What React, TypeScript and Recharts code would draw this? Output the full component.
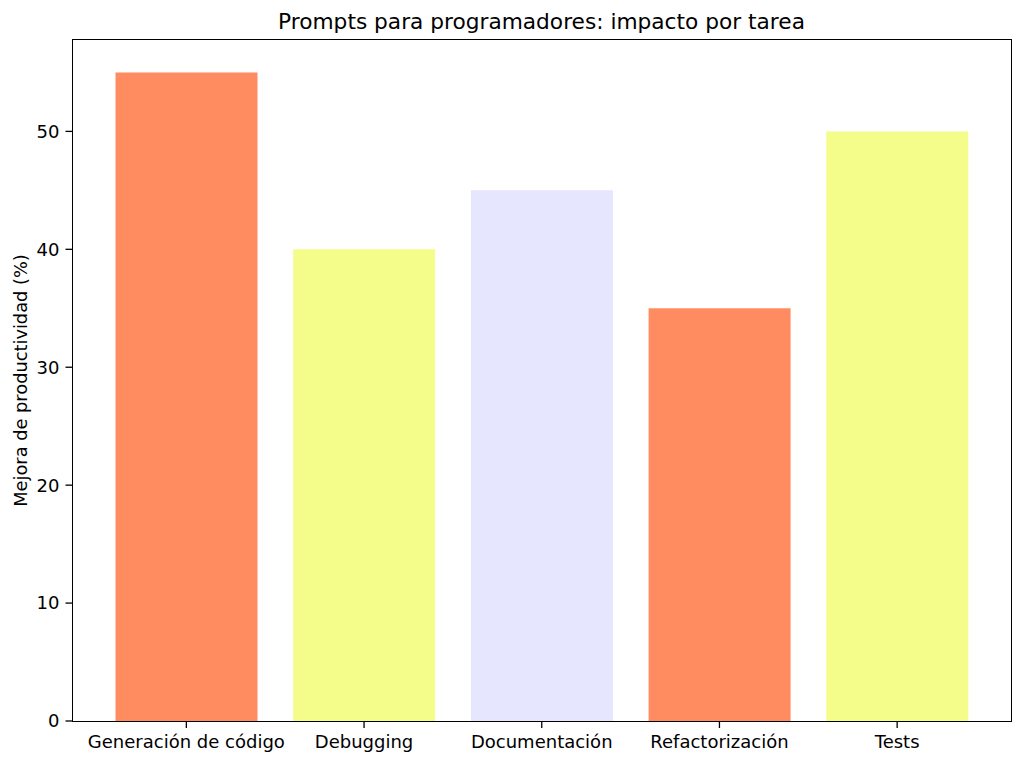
import { Bar, BarChart, Cell, XAxis, YAxis } from "recharts"

const categories = ["Generación de código", "Debugging", "Documentación", "Refactorización", "Tests"]
const mejoras = [55, 40, 45, 35, 50]
const barColors = ["#FF8C61", "#F4FC8A", "#E6E6FE", "#FF8C61", "#F4FC8A"]
const yTicks = [0, 10, 20, 30, 40, 50]

const data = categories.map((name, i) => ({ name, mejora: mejoras[i] }))

const font = "'DejaVu Sans', sans-serif"

export default function App() {
  return (
    <div style={{ position: "absolute", left: 0, top: 0, width: 1024, height: 765, background: "#fff", fontFamily: font }}>
      <div
        style={{
          position: "absolute",
          left: 72,
          width: 939,
          top: 9,
          textAlign: "center",
          fontSize: 21.7,
          lineHeight: "26px",
          color: "#000",
        }}
      >
        Prompts para programadores: impacto por tarea
      </div>
      <BarChart
        width={1024}
        height={765}
        data={data}
        margin={{ top: 40, right: 13, bottom: 0, left: 0 }}
        style={{ fontFamily: font }}
      >
        <XAxis
          dataKey="name"
          padding={{ left: 25, right: 25 }}
          height={44}
          tickSize={7}
          tickMargin={7}
          interval={0}
          stroke="#000"
          tick={{ fill: "#000", fontSize: 18 }}
          tickLine={{ stroke: "#000", strokeWidth: 1.3 }}
          axisLine={false}
        />
        <YAxis
          width={72.5}
          domain={[0, 57.75]}
          ticks={yTicks}
          tickSize={7}
          tickMargin={6}
          stroke="#000"
          tick={{ fill: "#000", fontSize: 18 }}
          tickLine={{ stroke: "#000", strokeWidth: 1.3 }}
          axisLine={false}
          label={({ viewBox }: any) => (
            <text
              x={20}
              y={viewBox.y + viewBox.height / 2}
              transform={`rotate(-90, 20, ${viewBox.y + viewBox.height / 2})`}
              textAnchor="middle"
              dominantBaseline="central"
              fontSize={17.8}
              fill="#000"
            >
              Mejora de productividad (%)
            </text>
          )}
        />
        <Bar dataKey="mejora" barSize={142} isAnimationActive={false}>
          {data.map((d, i) => (
            <Cell key={d.name} fill={barColors[i]} />
          ))}
        </Bar>
      </BarChart>
      <div
        style={{
          position: "absolute",
          left: 71.8,
          top: 39.3,
          width: 940,
          height: 682.4,
          boxSizing: "border-box",
          border: "1.4px solid #000",
          pointerEvents: "none",
        }}
      />
    </div>
  )
}
